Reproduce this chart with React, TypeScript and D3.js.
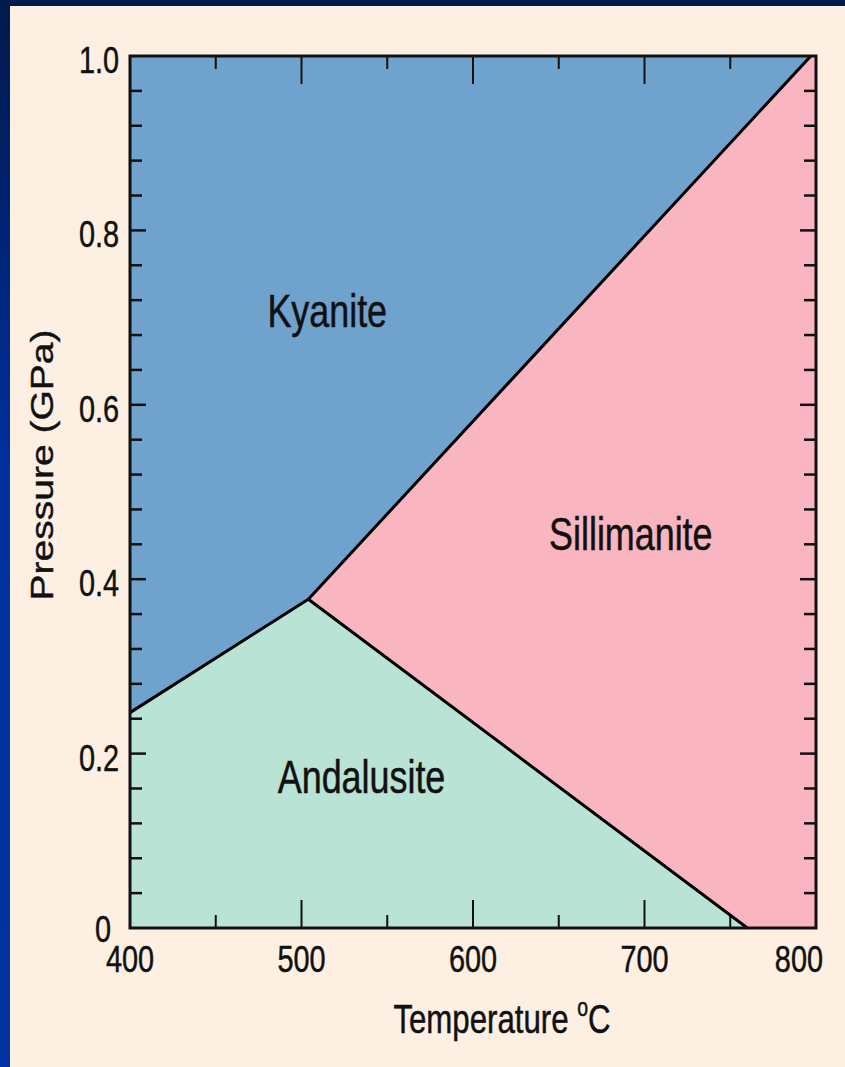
import React from "react";
import * as d3 from "d3";

// ---- data (temperature °C, pressure GPa) ----
const tempDomain = [400, 800];
const pressDomain = [0, 1];
const triplePoint: [number, number] = [504, 0.377];
const kyaniteAndalusite: [number, number][] = [[400, 0.247], [504, 0.377]];
const kyaniteSillimanite: [number, number][] = [[504, 0.377], [797, 1.0]];
const andalusiteSillimanite: [number, number][] = [[504, 0.377], [760, 0]];
const xTickValues = [400, 450, 500, 550, 600, 650, 700, 750, 800];
const xTickLabels = ["400", "500", "600", "700", "800"];
const yTickValues = d3.range(0, 26).map((i) => i * 0.04);
const yTickLabels = ["0", "0.2", "0.4", "0.6", "0.8", "1.0"];
const regionNames = ["Kyanite", "Sillimanite", "Andalusite"];
const regionLabelPos: [number, number][] = [[515, 0.689], [692, 0.433], [535, 0.155]];
const regionColors = ["#6fa3cd", "#f9b5c0", "#b9e3d5"];

const W = 845;
const H = 1067;
const SX = 0.78;
const FONT = "'Liberation Sans', Arial, Helvetica, sans-serif";

function SText({ x, y, size, anchor = "middle", children, rotate = false }: any) {
  const t = rotate
    ? `translate(${x},${y}) scale(${SX},1) rotate(-90)`
    : `translate(${x},${y}) scale(${SX},1)`;
  return (
    <text
      transform={t}
      fontSize={size}
      fontFamily={FONT}
      textAnchor={anchor}
      fill="#111"
      stroke="#111"
      strokeWidth={0.5}
    >
      {children}
    </text>
  );
}

export default function App() {
  const x = d3.scaleLinear().domain(tempDomain).range([130, 816]);
  const y = d3.scaleLinear().domain(pressDomain).range([928, 56]);
  const line = d3
    .line<[number, number]>()
    .x((d) => x(d[0]))
    .y((d) => y(d[1]));
  const [t0, t1] = tempDomain;
  const [p0, p1] = pressDomain;

  const kyanitePoly: [number, number][] = [
    kyaniteAndalusite[0],
    triplePoint,
    kyaniteSillimanite[1],
    [t0, p1],
  ];
  const sillPoly: [number, number][] = [
    triplePoint,
    kyaniteSillimanite[1],
    [t1, p1],
    [t1, p0],
    andalusiteSillimanite[1],
  ];
  const andPoly: [number, number][] = [
    [t0, p0],
    kyaniteAndalusite[0],
    triplePoint,
    andalusiteSillimanite[1],
  ];
  const polys = [kyanitePoly, sillPoly, andPoly];

  const xl = x(t0), xr = x(t1), yb = y(p0), yt = y(p1);
  const inner = (v: number, lo: number, hi: number) => v > lo + 1e-9 && v < hi - 1e-9;

  return (
    <svg
      width={W}
      height={H}
      style={{ position: "absolute", left: 0, top: 0, display: "block" }}
    >
      <defs>
        <linearGradient id="bgGrad" x1="0" y1="0" x2="0" y2="1">
          <stop offset="0" stopColor="#001a4c" />
          <stop offset="0.45" stopColor="#0030a0" />
          <stop offset="1" stopColor="#0033a3" />
        </linearGradient>
      </defs>
      <rect x={0} y={0} width={W} height={H} fill="url(#bgGrad)" />
      <rect x={0} y={0} width={W} height={6} fill="#001a4c" />
      <rect x={10} y={6} width={W - 10} height={H - 6} fill="#fdf0e2" />

      {polys.map((p, i) => (
        <path key={i} d={line(p) + "Z"} fill={regionColors[i]} />
      ))}

      {/* ticks */}
      {xTickValues.filter((v) => inner(v, t0, t1)).map((v) => {
        const len = v % 100 === 0 ? 28 : 13;
        return (
          <g key={"xt" + v} stroke="#111" strokeWidth={2}>
            <line x1={x(v)} x2={x(v)} y1={yb} y2={yb - len} />
            <line x1={x(v)} x2={x(v)} y1={yt} y2={yt + len} />
          </g>
        );
      })}
      {yTickValues.filter((v) => inner(v, p0, p1)).map((v, i) => {
        const major = Math.abs(v * 5 - Math.round(v * 5)) < 1e-6;
        const len = major ? 16 : 12;
        return (
          <g key={"yt" + i} stroke="#111" strokeWidth={2.5}>
            <line x1={xl} x2={xl + len} y1={y(v)} y2={y(v)} />
            <line x1={xr} x2={xr - len} y1={y(v)} y2={y(v)} />
          </g>
        );
      })}

      {/* phase boundaries */}
      {[kyaniteAndalusite, kyaniteSillimanite, andalusiteSillimanite].map((l, i) => (
        <path key={"b" + i} d={line(l) || ""} fill="none" stroke="#000" strokeWidth={3} />
      ))}

      {/* frame */}
      <rect x={xl} y={yt} width={xr - xl} height={yb - yt} fill="none" stroke="#111" strokeWidth={3} />

      {/* tick labels */}
      {xTickLabels.map((s, i) => {
        const last = i === xTickLabels.length - 1;
        return (
          <SText
            key={"xl" + s}
            x={last ? x(+s) + 7 : x(+s)}
            y={972}
            size={37}
            anchor={last ? "end" : "middle"}
          >
            {s}
          </SText>
        );
      })}
      {yTickLabels.map((s) => (
        <SText
          key={"yl" + s}
          x={+s === 0 ? 111 : 119}
          y={y(+s) + (+s === 0 ? 14 : 17)}
          size={37}
          anchor="end"
        >
          {s}
        </SText>
      ))}

      {/* region labels */}
      {regionNames.map((n, i) => (
        <SText key={n} x={x(regionLabelPos[i][0])} y={y(regionLabelPos[i][1])} size={46}>
          {n}
        </SText>
      ))}

      {/* axis titles */}
      <SText x={502} y={1033} size={40}>
        Temperature{" "}
        <tspan fontSize={25} dy={-17}>o</tspan>
        <tspan dy={17}>C</tspan>
      </SText>
      <SText x={53} y={465} size={39} rotate>
        Pressure (GPa)
      </SText>
    </svg>
  );
}
